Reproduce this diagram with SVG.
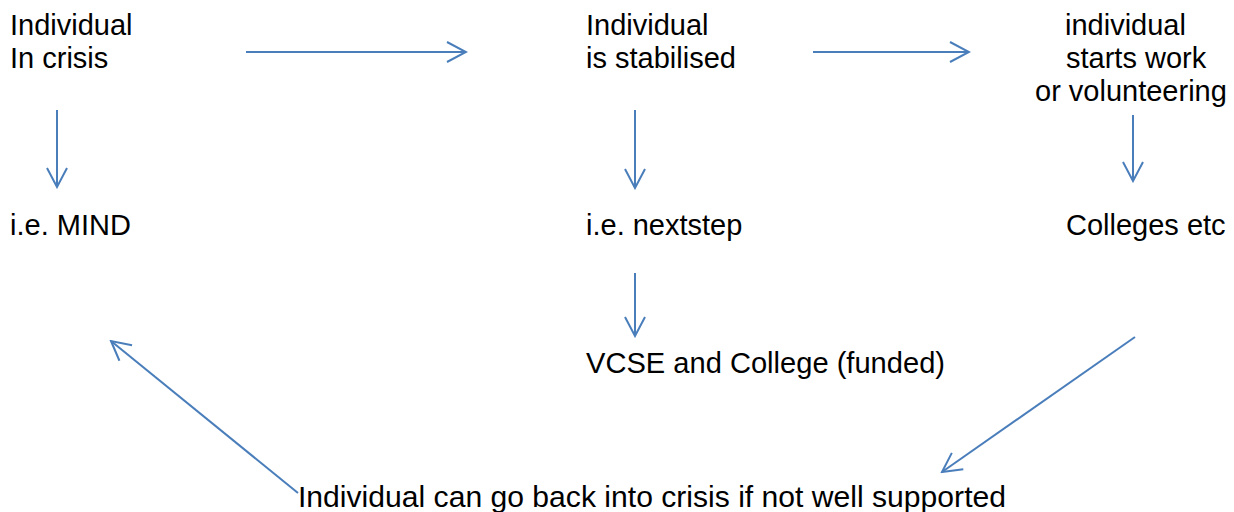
<svg xmlns="http://www.w3.org/2000/svg" width="1234" height="512" viewBox="0 0 1234 512">
<style>
text{font-family:"Liberation Sans",Arial,sans-serif;font-size:29px;fill:#000}
.c{fill:none;stroke:#4A7EBB;stroke-width:2;marker-end:url(#ah)}
</style>
<defs>
<marker id="ah" markerUnits="userSpaceOnUse" viewBox="-22 -12 24 24" markerWidth="24" markerHeight="24" refX="0" refY="0" orient="auto">
<path d="M-19,-10 L0,0 L-19,10" fill="none" stroke="#4A7EBB" stroke-width="2"/>
</marker>
</defs>
<rect width="1234" height="512" fill="#fff"/>
<g id="connectors">
<line class="c" x1="246" y1="52" x2="466" y2="52"/>
<line class="c" x1="813" y1="52" x2="969" y2="52"/>
<line class="c" x1="57" y1="110" x2="57" y2="187"/>
<line class="c" x1="635" y1="110" x2="635" y2="188"/>
<line class="c" x1="635" y1="273" x2="635" y2="336"/>
<line class="c" x1="1133" y1="115" x2="1133" y2="181"/>
<line class="c" x1="1135" y1="337" x2="942" y2="472"/>
<line class="c" x1="298" y1="493" x2="111" y2="341"/>
</g>
<g id="crisis"><text x="10" y="35">Individual</text><text x="10" y="68">In crisis</text></g>
<g id="mind"><text x="10" y="235">i.e. MIND</text></g>
<g id="stabilised"><text x="586" y="35">Individual</text><text x="586" y="68">is stabilised</text></g>
<g id="nextstep"><text x="586" y="235">i.e. nextstep</text></g>
<g id="vcse"><text x="586" y="373" textLength="359" lengthAdjust="spacingAndGlyphs">VCSE and College (funded)</text></g>
<g id="work"><text x="1065" y="35">individual</text><text x="1066" y="68">starts work</text><text x="1035" y="101">or volunteering</text></g>
<g id="colleges"><text x="1066" y="235">Colleges etc</text></g>
<g id="back"><text x="298" y="507" textLength="708" lengthAdjust="spacingAndGlyphs">Individual can go back into crisis if not well supported</text></g>
</svg>
